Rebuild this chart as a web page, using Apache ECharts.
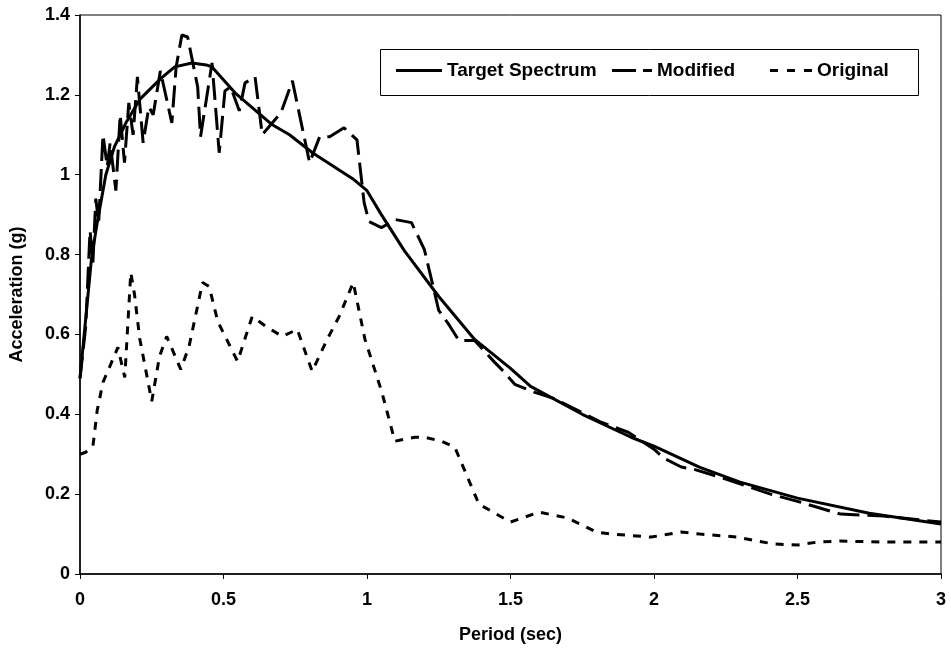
<!DOCTYPE html>
<html>
<head>
<meta charset="utf-8">
<script src="https://cdn.jsdelivr.net/npm/echarts@6/dist/echarts.min.js"></script>
<style>
  html, body { margin: 0; padding: 0; background: #fff; }
  #chart { width: 951px; height: 649px; }
</style>
</head>
<body>
<div id="chart"></div>
<script>
// Response spectra: period (sec) vs spectral acceleration (g)
const targetPeriod = [0.0, 0.02, 0.04, 0.06, 0.09, 0.12, 0.16, 0.21, 0.28, 0.33, 0.39, 0.44, 0.46, 0.54, 0.67, 0.73, 0.81, 0.95, 1.0, 1.05, 1.13, 1.25, 1.375, 1.5, 1.57, 1.75, 1.92, 2.0, 2.16, 2.3, 2.5, 2.75, 3.0];
const targetAccel  = [0.49, 0.64, 0.79, 0.88, 1.0, 1.07, 1.13, 1.19, 1.24, 1.27, 1.28, 1.275, 1.27, 1.205, 1.125, 1.10, 1.055, 0.99, 0.96, 0.90, 0.81, 0.695, 0.5875, 0.515, 0.47, 0.40, 0.3425, 0.32, 0.267, 0.23, 0.19, 0.152, 0.125];

const modifiedPeriod = [0.0, 0.02, 0.035, 0.045, 0.055, 0.065, 0.08, 0.095, 0.105, 0.125, 0.14, 0.155, 0.17, 0.185, 0.2, 0.22, 0.24, 0.255, 0.28, 0.32, 0.335, 0.355, 0.375, 0.41, 0.42, 0.46, 0.485, 0.505, 0.525, 0.555, 0.575, 0.61, 0.635, 0.70, 0.74, 0.80, 0.835, 0.87, 0.92, 0.965, 0.99, 1.007, 1.05, 1.10, 1.155, 1.20, 1.25, 1.285, 1.32, 1.375, 1.445, 1.475, 1.515, 1.585, 1.65, 1.816, 1.91, 2.0, 2.035, 2.095, 2.14, 2.25, 2.406, 2.5, 2.65, 2.8, 3.0];
const modifiedAccel  = [0.49, 0.62, 0.86, 0.78, 0.94, 0.88, 1.10, 1.02, 1.08, 0.96, 1.15, 1.03, 1.18, 1.10, 1.245, 1.08, 1.17, 1.15, 1.26, 1.13, 1.27, 1.35, 1.345, 1.22, 1.095, 1.28, 1.055, 1.21, 1.22, 1.16, 1.23, 1.245, 1.10, 1.155, 1.235, 1.03, 1.095, 1.095, 1.1175, 1.0875, 0.93, 0.8825, 0.8675, 0.8875, 0.88, 0.8125, 0.66, 0.625, 0.585, 0.585, 0.53, 0.508, 0.475, 0.455, 0.44, 0.38, 0.355, 0.3125, 0.29, 0.268, 0.262, 0.238, 0.20, 0.182, 0.15, 0.145, 0.13];

const originalPeriod = [0.0, 0.02, 0.045, 0.06, 0.08, 0.104, 0.132, 0.156, 0.177, 0.19, 0.208, 0.25, 0.277, 0.302, 0.351, 0.38, 0.427, 0.45, 0.48, 0.549, 0.60, 0.653, 0.705, 0.757, 0.809, 0.861, 0.903, 0.952, 0.993, 1.052, 1.097, 1.167, 1.20, 1.26, 1.306, 1.39, 1.5, 1.6, 1.7, 1.8, 1.85, 1.99, 2.094, 2.16, 2.29, 2.36, 2.42, 2.5, 2.57, 2.65, 2.8, 3.0];
const originalAccel  = [0.30, 0.305, 0.32, 0.41, 0.48, 0.52, 0.5675, 0.4925, 0.755, 0.70, 0.59, 0.4325, 0.545, 0.595, 0.5125, 0.57, 0.73, 0.72, 0.6325, 0.5325, 0.645, 0.6175, 0.595, 0.6125, 0.5075, 0.5875, 0.645, 0.73, 0.5875, 0.455, 0.3325, 0.3425, 0.3425, 0.3325, 0.3175, 0.175, 0.13, 0.155, 0.14, 0.105, 0.10, 0.0925, 0.105, 0.10, 0.0925, 0.0825, 0.075, 0.0725, 0.08, 0.0825, 0.08, 0.08];

const seriesNames = ['Target Spectrum', 'Modified', 'Original'];

function pairs(xs, ys) { return xs.map((x, i) => [x, ys[i]]); }

const FONT = '"Liberation Sans", Arial, sans-serif';
const legendText = { fontFamily: FONT, fontSize: 19, fontWeight: 'bold', color: '#000' };

// Legend swatches drawn as short strokes that echo each line's dash pattern
const swatches = [
  { left: 396, width: 46, icon: 'path://M0,0H46V3H0Z' },
  { left: 612, width: 40, icon: 'path://M0,0H24V3H0Z M31,0H40V3H31Z' },
  { left: 770, width: 42, icon: 'path://M0,0H8V3H0Z M17,0H25V3H17Z M34,0H42V3H34Z' }
];

const legends = seriesNames.map((name, i) => ({
  data: [{ name: name, icon: swatches[i].icon }],
  left: swatches[i].left, top: 61,
  padding: 0,
  itemWidth: swatches[i].width, itemHeight: 14,
  itemStyle: { color: '#000', borderWidth: 0 },
  textStyle: legendText
}));

const chart = echarts.init(document.getElementById('chart'), null, { renderer: 'canvas' });

chart.setOption({
  backgroundColor: '#fff',
  animation: false,
  grid: {
    left: 77, right: 10, top: 15, bottom: 74,
    show: true, borderColor: '#000', borderWidth: 1, backgroundColor: 'transparent'
  },
  graphic: [{
    type: 'rect', left: 380, top: 49, z: 10,
    shape: { width: 538, height: 46 },
    style: { fill: 'rgba(0,0,0,0)', stroke: '#000', lineWidth: 1 }
  }],
  legend: legends,
  xAxis: {
    type: 'value', min: 0, max: 3, interval: 0.5,
    name: 'Period (sec)', nameLocation: 'middle', nameGap: 52,
    nameTextStyle: { fontFamily: FONT, fontSize: 18, fontWeight: 'bold', color: '#000' },
    axisLine: { lineStyle: { color: '#000', width: 1.5 } },
    axisTick: { inside: false, length: 5, lineStyle: { color: '#000' } },
    axisLabel: { margin: 17, fontFamily: FONT, fontSize: 18, fontWeight: 'bold', color: '#000' },
    splitLine: { show: false }
  },
  yAxis: {
    type: 'value', min: 0, max: 1.4, interval: 0.2,
    name: 'Acceleration (g)', nameLocation: 'middle', nameGap: 54,
    nameTextStyle: { fontFamily: FONT, fontSize: 18, fontWeight: 'bold', color: '#000' },
    axisLine: { show: true, lineStyle: { color: '#000', width: 1.5 } },
    axisTick: { show: true, inside: false, length: 5, lineStyle: { color: '#000' } },
    axisLabel: { margin: 10, fontFamily: FONT, fontSize: 18, fontWeight: 'bold', color: '#000' },
    splitLine: { show: false }
  },
  series: [
    {
      name: 'Target Spectrum', type: 'line', symbol: 'none', z: 4,
      data: pairs(targetPeriod, targetAccel),
      lineStyle: { color: '#000', width: 3, type: 'solid' },
      itemStyle: { color: '#000' }
    },
    {
      name: 'Modified', type: 'line', symbol: 'none', z: 3,
      data: pairs(modifiedPeriod, modifiedAccel),
      lineStyle: { color: '#000', width: 3, type: [22, 8] },
      itemStyle: { color: '#000' }
    },
    {
      name: 'Original', type: 'line', symbol: 'none', z: 2,
      data: pairs(originalPeriod, originalAccel),
      lineStyle: { color: '#000', width: 3, type: [8, 8] },
      itemStyle: { color: '#000' }
    }
  ]
});
</script>
</body>
</html>
